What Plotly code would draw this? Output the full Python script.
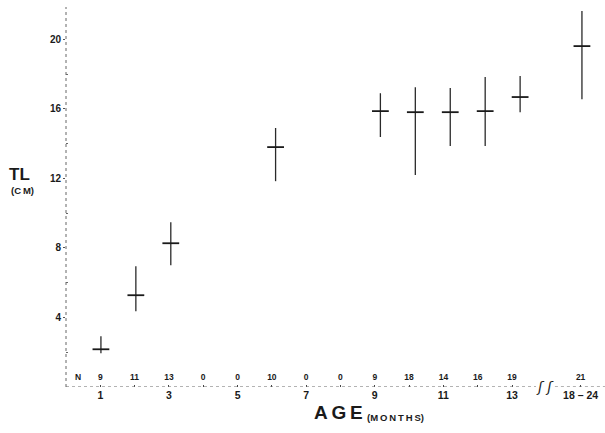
import plotly.graph_objects as go

# ---- data ----
age_pos = [1, 2, 3, 6, 9, 10, 11, 12, 13, 14.77]          # point positions (months; last = 18-24 group)
tl_mean = [2.17, 5.28, 8.27, 13.80, 15.87, 15.81, 15.81, 15.87, 16.68, 19.61]
tl_max = [2.92, 6.95, 9.48, 14.90, 16.90, 17.25, 17.20, 17.83, 17.89, 21.63]
tl_min = [1.94, 4.36, 7.00, 11.84, 14.38, 12.19, 13.86, 13.86, 15.81, 16.56]

n_months = [1, 2, 3, 4, 5, 6, 7, 8, 9, 10, 11, 12, 13, 15]
n_counts = ["9", "11", "13", "0", "0", "10", "0", "0", "9", "18", "14", "16", "19", "21"]

x_tickvals = [1, 3, 5, 7, 9, 11, 13, 15]
x_ticktext = ["1", "3", "5", "7", "9", "11", "13", "18 \u2013 24"]
y_tickvals = [4, 8, 12, 16, 20]

FONT = "Liberation Sans"
INK = "#1a1a1a"

err_plus = [hi - m for hi, m in zip(tl_max, tl_mean)]
err_minus = [m - lo for lo, m in zip(tl_min, tl_mean)]

fig = go.Figure()
fig.add_trace(go.Scatter(
    x=age_pos, y=tl_mean, mode="markers",
    marker=dict(symbol="line-ew", size=12, line=dict(width=1.8, color=INK), color=INK),
    error_y=dict(type="data", symmetric=False, array=err_plus, arrayminus=err_minus,
                 width=0, thickness=1.3, color="#2a2a2a"),
    showlegend=False, hoverinfo="skip", cliponaxis=False,
))
# sample sizes row (on the label axis)
fig.add_trace(go.Scatter(
    x=n_months, y=[0.55] * len(n_months), xaxis="x2", mode="text",
    text=n_counts, textfont=dict(family=FONT, size=8.5, color=INK, weight="bold"),
    showlegend=False, hoverinfo="skip", cliponaxis=False,
))

X1_MAX = 15.43
X2_MAX = 15.71
Y_MAX = 21.86

fig.update_layout(
    width=605, height=433,
    margin=dict(l=66, r=0, t=7, b=46),
    paper_bgcolor="white", plot_bgcolor="white",
    xaxis=dict(range=[0, X1_MAX], showgrid=False, zeroline=False, showline=False,
               showticklabels=False, ticks=""),
    xaxis2=dict(range=[0, X2_MAX], overlaying="x", anchor="y", side="bottom",
                showgrid=False, zeroline=False, showline=False, automargin=False,
                tickmode="array", tickvals=x_tickvals, ticktext=x_ticktext,
                ticks="inside", ticklen=2, tickcolor="#444",
                tickfont=dict(family=FONT, size=10.5, color=INK, weight="bold"),
                minor=dict(tickmode="array", tickvals=[2, 4, 6, 8, 10, 12],
                           ticks="inside", ticklen=2, tickcolor="#444")),
    yaxis=dict(range=[0, Y_MAX], showgrid=False, zeroline=False, showline=False,
               tickmode="array", tickvals=y_tickvals, automargin=False,
               ticks="outside", ticklen=2, tickcolor="#555",
               tickfont=dict(family=FONT, size=10, color=INK, weight="bold"),
               minor=dict(tickmode="array", tickvals=[2, 6, 10, 14, 18],
                          ticks="inside", ticklen=2, tickcolor="#666")),
)

# axis lines (dotted, scanned look)
line_style = dict(color="#666", width=1, dash="dot")
fig.add_shape(type="line", xref="paper", yref="paper", x0=0, x1=0, y0=0, y1=1, line=line_style)
fig.add_shape(type="line", xref="x2", yref="y", x0=0, x1=13.7, y0=0, y1=0, line=line_style)
fig.add_shape(type="line", xref="x2", yref="y", x0=14.25, x1=X2_MAX, y0=0, y1=0, line=line_style)

ann = []
# axis break
ann.append(dict(x=13.97, y=0, xref="x2", yref="y", text="<i>\u0283 \u0283</i>", showarrow=False,
                font=dict(family="DejaVu Sans", size=14, color=INK), xanchor="center", yanchor="middle"))
# N label
ann.append(dict(x=0.36, y=0.55, xref="x2", yref="y", text="N", showarrow=False,
                font=dict(family=FONT, size=8.5, color=INK, weight="bold"), xanchor="center", yanchor="middle"))
# y title
ann.append(dict(x=-47 / 539, y=(386.7 - 174) / 380, xref="paper", yref="paper", text="TL", showarrow=False,
                font=dict(family=FONT, size=17, color=INK, weight="bold"), xanchor="center", yanchor="middle"))
ann.append(dict(x=-44 / 539, y=(386.7 - 190) / 380, xref="paper", yref="paper",
                text="(C\u2009M)", showarrow=False,
                font=dict(family=FONT, size=9.5, color=INK, weight="bold"), xanchor="center", yanchor="middle"))
# x title
ann.append(dict(x=(365 - 66) / 539, y=(386.7 - 425) / 380, xref="paper", yref="paper",
                text="A\u2009G\u2009E", showarrow=False,
                font=dict(family=FONT, size=19, color=INK, weight="bold"), xanchor="right", yanchor="bottom"))
ann.append(dict(x=(365 - 66) / 539, y=(386.7 - 425) / 380, xref="paper", yref="paper",
                text="(M\u2009O\u2009N\u2009T\u2009H\u2009S)", showarrow=False,
                font=dict(family=FONT, size=9.5, color=INK, weight="bold"), xanchor="left", yanchor="bottom"))
fig.update_layout(annotations=ann)

fig.write_html("out.html", post_script="document.body.style.margin='0';",
               config={"displayModeBar": False})
